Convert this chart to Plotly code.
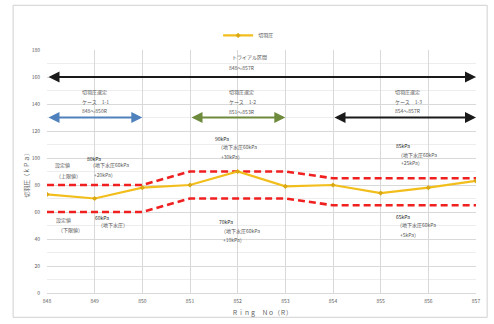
import plotly.graph_objects as go

# ---- data ----
rings = [848, 849, 850, 851, 852, 853, 854, 855, 856, 857]
face_pressure = [73, 70, 78, 80, 90, 79, 80, 74, 78, 83]
upper_limit = [80, 80, 80, 90, 90, 90, 85, 85, 85, 85]
lower_limit = [60, 60, 60, 70, 70, 70, 65, 65, 65, 65]
y_ticks = list(range(0, 181, 20))

# range arrows: (start ring, end ring, value, colour)
ranges = [
    (848, 857, 160, "#1a1a1a"),
    (848, 850, 130, "#4F81BD"),
    (851, 853, 130, "#6E8B3D"),
    (854, 857, 130, "#1a1a1a"),
]

# text labels: (text, x ring, y value)
labels = [
    ("トライアル区間", 851.84, 174.8),
    ("848～857R", 851.77, 167.4),
    ("切羽圧選定", 848.69, 148.7),
    ("ケース　1-1", 848.69, 141.6),
    ("848～850R", 848.69, 135.0),
    ("切羽圧選定", 851.77, 148.7),
    ("ケース　1-2", 851.77, 141.6),
    ("851～853R", 851.77, 134.8),
    ("切羽圧選定", 855.26, 148.7),
    ("ケース　1-3", 855.26, 141.6),
    ("854～857R", 855.26, 135.0),
    ("80kPa", 848.80, 99.6),
    ("（地下水圧60kPa", 848.85, 94.6),
    ("+20kPa）", 848.94, 87.8),
    ("設定値", 848.13, 94.6),
    ("（上限値）", 848.15, 86.8),
    ("設定値", 848.15, 53.8),
    ("（下限値）", 848.18, 46.4),
    ("60kPa", 848.97, 56.3),
    ("（地下水圧）", 849.02, 50.1),
    ("90kPa", 851.49, 114.8),
    ("（地下水圧60kPa", 851.54, 108.2),
    ("+30kPa）", 851.60, 100.8),
    ("70kPa", 851.56, 52.6),
    ("（地下水圧60kPa", 851.60, 46.2),
    ("+10kPa）", 851.66, 39.3),
    ("85kPa", 855.28, 109.1),
    ("（地下水圧60kPa", 855.32, 102.5),
    ("+25kPa）", 855.39, 96.4),
    ("65kPa", 855.27, 57.0),
    ("（地下水圧60kPa", 855.30, 50.6),
    ("+5kPa）", 855.37, 43.5),
]

FONT = "Noto Sans CJK JP"

fig = go.Figure()

fig.add_trace(go.Scatter(
    x=rings, y=upper_limit, mode="lines", showlegend=False,
    line=dict(color="#F02020", width=2.6, dash="7px,4px"), hoverinfo="skip"))
fig.add_trace(go.Scatter(
    x=rings, y=lower_limit, mode="lines", showlegend=False,
    line=dict(color="#F02020", width=2.6, dash="7px,4px"), hoverinfo="skip"))
fig.add_trace(go.Scatter(
    x=rings, y=face_pressure, mode="lines+markers", name="切羽圧",
    line=dict(color="#F2BE1C", width=2.2),
    marker=dict(symbol="diamond", size=4, color="#D9A814")))

annotations = []
for x0, x1, v, c in ranges:
    annotations.append(dict(
        x=x1, y=v, ax=x0, ay=v, xref="x", yref="y", axref="x", ayref="y",
        text="", showarrow=True, arrowhead=2, arrowside="end+start",
        arrowsize=1, arrowwidth=2.2, arrowcolor=c, standoff=0, startstandoff=0))
for t, x, y in labels:
    bold = "kPa" in t and t[0].isdigit()
    annotations.append(dict(
        x=x, y=y, xref="x", yref="y", text=t, showarrow=False,
        xanchor="left", yanchor="middle",
        font=dict(family=FONT, size=5, color="#222" if bold else "#555")))

# axis titles placed manually
annotations.append(dict(
    x=-0.047, y=0.49, xref="paper", yref="paper", text="切羽圧（ｋＰａ）",
    showarrow=False, textangle=-90, xanchor="center", yanchor="middle",
    font=dict(family=FONT, size=6, color="#595959")))
annotations.append(dict(
    x=0.5, y=-0.082, xref="paper", yref="paper", text="Ｒｉｎｇ　Ｎｏ（Ｒ）",
    showarrow=False, xanchor="center", yanchor="middle",
    font=dict(family=FONT, size=6, color="#595959")))

fig.update_layout(
    width=494, height=324,
    margin=dict(l=47, r=18, t=50, b=31, autoexpand=False),
    paper_bgcolor="white", plot_bgcolor="white",
    font=dict(family=FONT, size=5, color="#595959"),
    showlegend=True,
    legend=dict(orientation="h", x=0.47, y=1.06, xanchor="center", yanchor="middle",
                font=dict(size=5, color="#595959"), bgcolor="rgba(0,0,0,0)"),
    annotations=annotations,
    shapes=[dict(type="rect", xref="paper", yref="paper",
                 x0=-0.079, x1=1.026, y0=-0.10, y1=1.184,
                 line=dict(color="#D0D0D0", width=1), layer="below")],
    xaxis=dict(
        range=[848, 857], tickvals=rings, ticktext=[str(r) for r in rings],
        showgrid=True, gridcolor="#D9D9D9", gridwidth=1, zeroline=False,
        showline=True, linecolor="#D9D9D9", ticks="", automargin=False,
        ticklabelstandoff=3,
        tickfont=dict(size=5, color="#595959")),
    yaxis=dict(
        range=[0, 180], tickvals=y_ticks, ticktext=[str(v) for v in y_ticks],
        showgrid=True, gridcolor="#D9D9D9", gridwidth=1, zeroline=False,
        minor=dict(dtick=10, showgrid=True, gridcolor="#EDEDED"),
        showline=False, ticks="", automargin=False, ticklabelstandoff=6,
        tickfont=dict(size=5, color="#595959")),
)

fig.write_html("out.html", config={"displayModeBar": False},
               post_script="document.body.style.margin='0';")
